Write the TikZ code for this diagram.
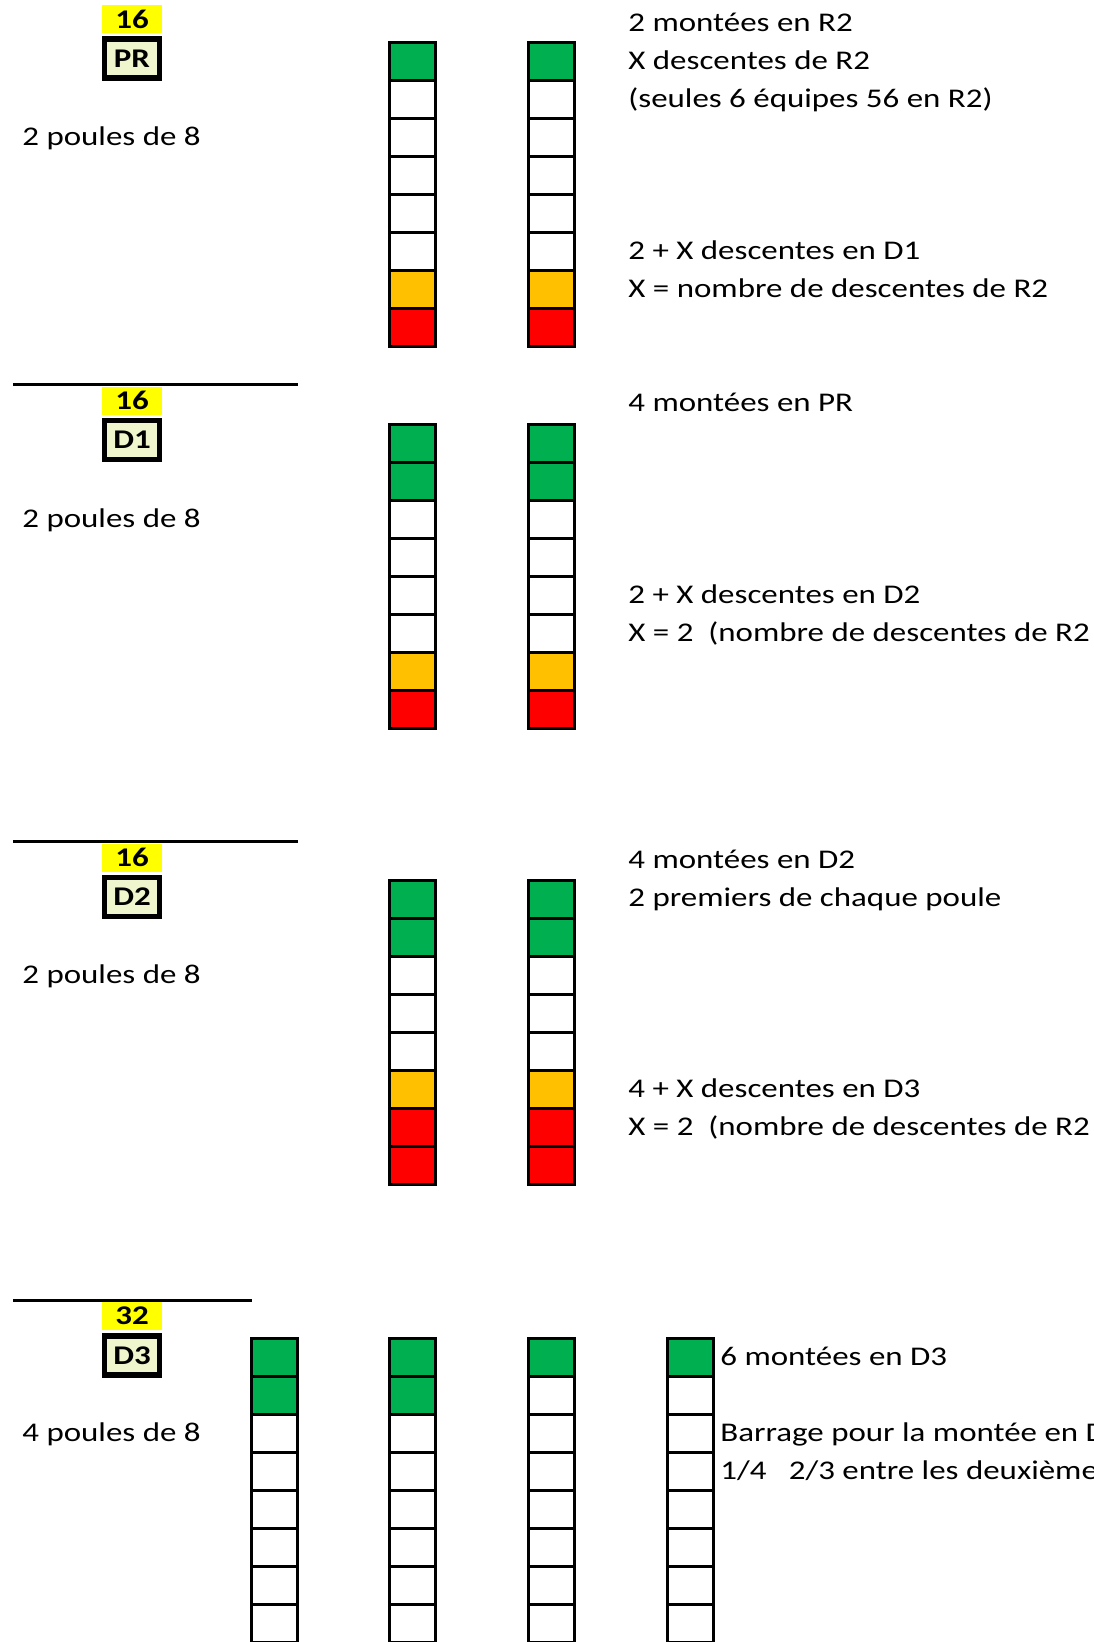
\documentclass[tikz,border=0pt]{standalone}
\usepackage{fontspec}
\setmainfont{Carlito}[FakeStretch=1.22]
\usepackage{tikz}
\usetikzlibrary{positioning}
\definecolor{PromoGreen}{HTML}{00B050}
\definecolor{PlayOrange}{HTML}{FFC000}
\definecolor{DropRed}{HTML}{FF0000}
\definecolor{CountYellow}{HTML}{FFFF00}
\definecolor{LevelFill}{HTML}{EFF5CC}

\newcommand{\poolcol}[4]{%
  \foreach \col [count=\i] in {#4}
    \node[cell, fill=\col] (#1-\i) at (#2, #3+\i*38-19) {};
}

\begin{document}
\begin{tikzpicture}[x=0.5pt, y=-0.5pt,
    cell/.style={draw, line width=1.5pt, minimum width=23pt, minimum height=19pt, inner sep=0pt},
    note/.style={anchor=base west, inner sep=0pt, font=\fontsize{13.5}{16}\selectfont},
    count/.style={fill=CountYellow, minimum width=30pt, minimum height=14pt, inner sep=0pt,
                  font=\bfseries\fontsize{13.5}{15}\selectfont},
    level/.style={draw, line width=2.7pt, fill=LevelFill, minimum width=27.5pt, minimum height=19.5pt,
                  inner sep=0pt, font=\bfseries\fontsize{13.5}{15}\selectfont},
    sep/.style={line width=1.5pt}]
\useasboundingbox (0,0) rectangle (1093,1642);
\clip (0,0) rectangle (1093,1642);

\node[count] (pr-n) at (132,19) {16};
\node[level, below=1.5pt of pr-n] (pr) {PR};
\node[note] (pr-p) at (22,146) {2 poules de 8};
\poolcol{pr-a}{412.5}{43}{PromoGreen,white,white,white,white,white,PlayOrange,DropRed}
\poolcol{pr-b}{551}{43}{PromoGreen,white,white,white,white,white,PlayOrange,DropRed}
\node[note] (pr-t1) at (628,32) {2 montées en R2};
\node[note] (pr-t2) at (628,70) {X descentes de R2};
\node[note] (pr-t3) at (628,108) {(seules 6 équipes 56 en R2)};
\node[note] (pr-t4) at (628,260) {2 + X descentes en D1};
\node[note] (pr-t5) at (628,298) {X = nombre de descentes de R2};

\draw[sep] (13,384) -- (298,384);
\node[count] (d1-n) at (132,400.5) {16};
\node[level, below=1.5pt of d1-n] (d1) {D1};
\node[note] (d1-p) at (22,527) {2 poules de 8};
\poolcol{d1-a}{412.5}{424}{PromoGreen,PromoGreen,white,white,white,white,PlayOrange,DropRed}
\poolcol{d1-b}{551}{424}{PromoGreen,PromoGreen,white,white,white,white,PlayOrange,DropRed}
\node[note] (d1-t1) at (628,411) {4 montées en PR};
\node[note] (d1-t2) at (628,603) {2 + X descentes en D2};
\node[note] (d1-t3) at (628,641) {X = 2\ \ (nombre de descentes de R2};

\draw[sep] (13,841) -- (298,841);
\node[count] (d2-n) at (132,857.5) {16};
\node[level, below=1.5pt of d2-n] (d2) {D2};
\node[note] (d2-p) at (22,983) {2 poules de 8};
\poolcol{d2-a}{412.5}{880}{PromoGreen,PromoGreen,white,white,white,PlayOrange,DropRed,DropRed}
\poolcol{d2-b}{551}{880}{PromoGreen,PromoGreen,white,white,white,PlayOrange,DropRed,DropRed}
\node[note] (d2-t1) at (628,868) {4 montées en D2};
\node[note] (d2-t2) at (628,906) {2 premiers de chaque poule};
\node[note] (d2-t3) at (628,1097) {4 + X descentes en D3};
\node[note] (d2-t4) at (628,1135) {X = 2\ \ (nombre de descentes de R2};

\draw[sep] (13,1300) -- (252,1300);
\node[count] (d3-n) at (132,1316) {32};
\node[level, below=1.5pt of d3-n] (d3) {D3};
\node[note] (d3-p) at (22,1441) {4 poules de 8};
\poolcol{d3-a}{274}{1338}{PromoGreen,PromoGreen,white,white,white,white,white,white}
\poolcol{d3-b}{412.5}{1338}{PromoGreen,PromoGreen,white,white,white,white,white,white}
\poolcol{d3-c}{551.5}{1338}{PromoGreen,white,white,white,white,white,white,white}
\poolcol{d3-d}{690}{1338}{PromoGreen,white,white,white,white,white,white,white}
\node[note] (d3-t1) at (720,1365) {6 montées en D3};
\node[note] (d3-t2) at (720,1441) {Barrage pour la montée en D2};
\node[note] (d3-t3) at (720,1479) {1/4\ \ \ 2/3 entre les deuxièmes};
\end{tikzpicture}
\end{document}
